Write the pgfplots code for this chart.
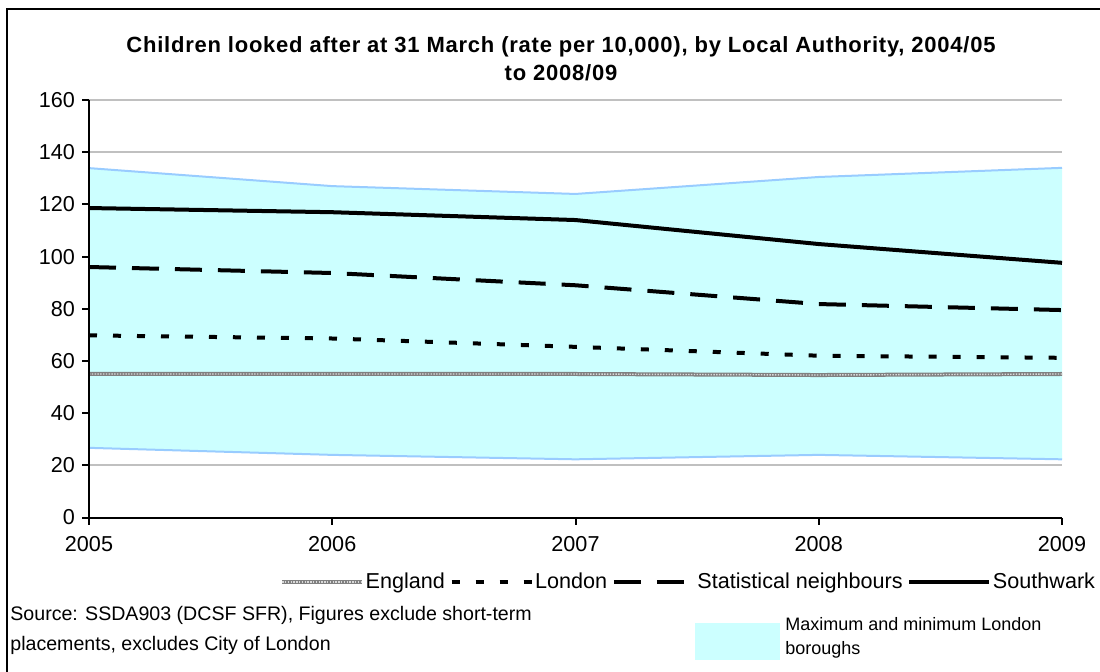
\documentclass[border=0pt]{standalone}
\usepackage{fontspec}
\setmainfont{Liberation Sans}
\newfontfamily\titlefont[LetterSpace=3.5]{Liberation Sans}
\usepackage{pgfplots}
\pgfplotsset{compat=1.18}
\usepgfplotslibrary{fillbetween}
\definecolor{areafill}{HTML}{CCFFFF}
\definecolor{areaedge}{HTML}{99CCFF}
\definecolor{gridgray}{HTML}{C0C0C0}

\pgfplotsset{
  frame/.style={
    at={(44.5pt,-258.75pt)}, anchor=south west,
    scale only axis, width=486.5pt, height=208.75pt,
    xmin=2005, xmax=2009, ymin=0, ymax=160,
    xtick={2005,2006,2007,2008,2009},
    ytick={0,20,40,60,80,100,120,140,160},
    axis lines*=left,
    axis line style={black, line width=1pt},
    tick style={black, line width=1pt},
    tick align=outside, major tick length=3.5pt,
  },
}

\begin{document}
\begin{tikzpicture}
\draw[line width=1.15pt] (3.5pt,-345pt) |- (560pt,-4.5pt);

\node[anchor=base, font=\titlefont\bfseries\fontsize{11}{13}\selectfont] at (280.5pt,-26pt)
  {Children looked after at 31 March (rate per 10,000), by Local Authority, 2004/05};
\node[anchor=base, font=\titlefont\bfseries\fontsize{11}{13}\selectfont] at (280.5pt,-40pt) {to 2008/09};

\begin{axis}[
  frame,
  ymajorgrids,
  grid style={gridgray, line width=1pt},
  ticklabel style={font=\fontsize{10.8}{13}\selectfont},
  /pgf/number format/assume math mode=true,
  xticklabel style={/pgf/number format/1000 sep={}, yshift=-2.5pt},
  legend columns=4,
  legend style={at={(axis description cs:0.196,-0.1545)}, anchor=west,
    draw=none, fill=none, inner sep=0pt,
    font=\fontsize{10.8}{13}\selectfont,
    nodes={inner sep=0.8pt},
    /tikz/every even column/.append style={column sep=1.5pt}},
  legend image code/.code={\draw[#1] (0pt,0pt) -- (40pt,0pt);},
]

\addplot[name path=max, draw=none, forget plot] coordinates {
(2005,133.9) (2006,127) (2007,124) (2008,130.5) (2009,134)
};
\addplot[name path=min, draw=none, forget plot] coordinates {
(2005,26.7) (2006,24) (2007,22.3) (2008,24) (2009,22.3)
};
\addplot[areafill, forget plot] fill between[of=max and min];
\addplot[areaedge, line width=1pt, forget plot] coordinates {
(2005,133.9) (2006,127) (2007,124) (2008,130.5) (2009,134)
};
\addplot[areaedge, line width=1pt, forget plot] coordinates {
(2005,26.7) (2006,24) (2007,22.3) (2008,24) (2009,22.3)
};

\addplot[draw=black!50, line width=2pt,
  postaction={draw=white!85!black, line width=0.7pt, dash pattern=on 0.7pt off 0.7pt}]
  coordinates {
(2005,55) (2006,55) (2007,55) (2008,54.6) (2009,55)
};
\addlegendentry{England}

\addplot[black, line width=2pt, dash pattern=on 4pt off 8pt] coordinates {
(2005,69.8) (2006,68.6) (2007,65.4) (2008,62) (2009,61.2)
};
\addlegendentry{London}

\addplot[black, line width=2pt, dash pattern=on 13.5pt off 8pt] coordinates {
(2005,96) (2006,93.7) (2007,89) (2008,81.8) (2009,79.5)
};
\addlegendentry{Statistical neighbours}

\addplot[black, line width=2pt] coordinates {
(2005,118.6) (2006,117) (2007,114) (2008,104.8) (2009,97.6)
};
\addlegendentry{Southwark}
\end{axis}

% axis lines and ticks again, above the band
\begin{axis}[frame, xticklabels={}, yticklabels={}]
\end{axis}

\node[anchor=base west, inner sep=0pt, font=\fontsize{9.8}{12}\selectfont] at (5pt,-310.25pt)
  {Source: SSDA903 (DCSF SFR), Figures exclude short-term};
\node[anchor=base west, inner sep=0pt, font=\fontsize{9.8}{12}\selectfont] at (5pt,-325pt)
  {placements, excludes City of London};

\fill[areafill] (347.5pt,-311.5pt) rectangle (390pt,-330pt);
\node[anchor=base west, inner sep=0pt, font=\fontsize{9}{11}\selectfont] at (392.5pt,-315.25pt)
  {Maximum and minimum London};
\node[anchor=base west, inner sep=0pt, font=\fontsize{9}{11}\selectfont] at (392.5pt,-327.25pt)
  {boroughs};

\pgfresetboundingbox
\useasboundingbox (0pt,0pt) rectangle (550pt,-335.5pt);
\end{tikzpicture}
\end{document}
